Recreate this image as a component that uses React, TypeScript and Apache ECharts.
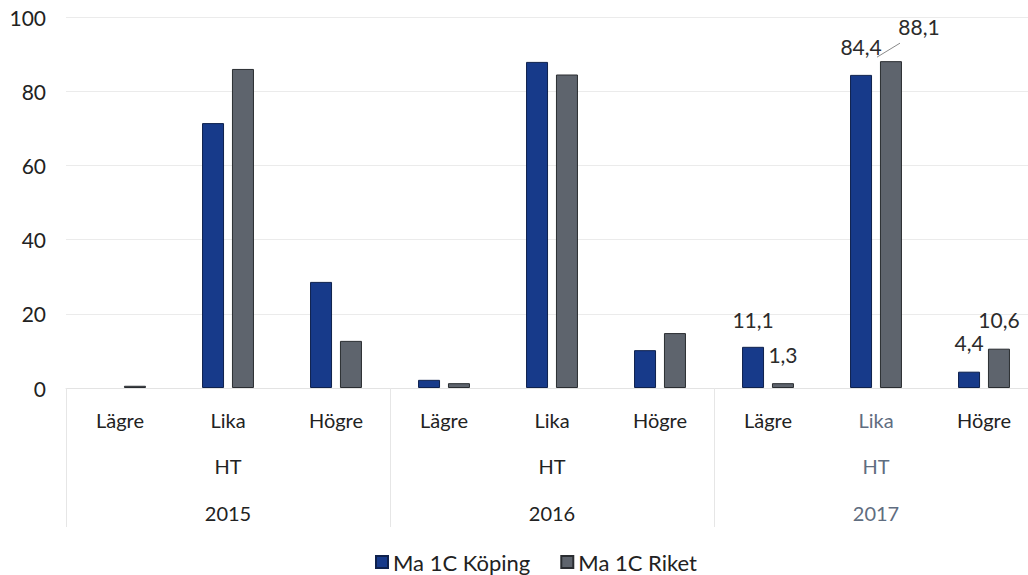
import React, { useEffect, useRef } from "react";
import * as echarts from "echarts";

const categories = ["Lägre", "Lika", "Högre", "Lägre", "Lika", "Högre", "Lägre", "Lika", "Högre"];
const terms = ["HT", "HT", "HT"];
const years = ["2015", "2016", "2017"];
const seriesNames = ["Ma 1C Köping", "Ma 1C Riket"];
const koping = [0, 71.4, 28.6, 2.2, 87.9, 10.2, 11.1, 84.4, 4.4];
const riket = [0.6, 86.0, 12.7, 1.3, 84.5, 14.8, 1.3, 88.1, 10.6];
const labelledFrom = 6; // only the 2017 bars carry value labels

const FONT = "Lato, 'Open Sans', sans-serif";
const fmt = (v: number) => v.toFixed(1).replace(".", ",");

export default function App() {
  const ref = useRef<HTMLDivElement>(null);
  useEffect(() => {
    if (!ref.current) return;
    const chart = echarts.init(ref.current, undefined, { renderer: "svg" });

    const labelOffsets: Record<string, number[]> = {
      "0-6": [0, -12],
      "0-7": [0, -13],
      "0-8": [0, -14],
      "1-6": [0, -13],
      "1-7": [28, -19],
      "1-8": [0, -14],
    };
    const mkData = (vals: number[], si: number) =>
      vals.map((v, i) =>
        i >= labelledFrom
          ? {
              value: v,
              label: {
                show: true,
                position: "top",
                offset: labelOffsets[`${si}-${i}`],
                formatter: () => fmt(v),
                fontFamily: FONT,
                fontSize: 21,
                color: "#2b2b2b",
              },
            }
          : v === 0
          ? { value: v, itemStyle: { borderWidth: 0 } }
          : v
      );

    const greyIdx = (i: number) => i === 7;

    chart.setOption({
      animation: false,
      textStyle: { fontFamily: FONT },
      grid: { left: 66, top: 17, width: 972, height: 371, containLabel: false },
      legend: {
        bottom: 1,
        left: 375,
        padding: 0,
        itemWidth: 12,
        itemHeight: 12,
        itemGap: 30,
        icon: "rect",
        textStyle: { fontFamily: FONT, fontSize: 22, lineHeight: 24, color: "#222" },
        data: seriesNames,
      },
      yAxis: {
        type: "value",
        min: 0,
        max: 100,
        interval: 20,
        axisLine: { show: false },
        axisTick: { show: false },
        splitLine: { lineStyle: { color: "#ebebeb", width: 1 } },
        axisLabel: { fontFamily: FONT, fontSize: 21, color: "#222", margin: 20 },
      },
      xAxis: [
        {
          type: "category",
          data: categories,
          position: "bottom",
          axisLine: { show: true, lineStyle: { color: "#e3e3e3" } },
          axisTick: { show: false },
          axisLabel: {
            interval: 0,
            margin: 22,
            fontFamily: FONT,
            fontSize: 20,
            color: (_v: string, i: number) => (greyIdx(i) ? "#5f6d80" : "#222"),
          },
        },
        {
          type: "category",
          data: terms,
          position: "bottom",
          axisLine: { show: false },
          axisTick: { show: false },
          axisLabel: {
            interval: 0,
            margin: 68,
            fontFamily: FONT,
            fontSize: 20,
            color: (_v: string, i: number) => (i === 2 ? "#5f6d80" : "#222"),
          },
        },
        {
          type: "category",
          data: years,
          position: "bottom",
          axisLine: { show: false },
          axisTick: { show: true, interval: 0, length: 139, lineStyle: { color: "#e6e6e6" } },
          axisLabel: {
            interval: 0,
            margin: 115,
            fontFamily: FONT,
            fontSize: 20,
            color: (_v: string, i: number) => (i === 2 ? "#5f6d80" : "#222"),
          },
        },
      ],
      series: [
        {
          name: seriesNames[0],
          type: "bar",
          xAxisIndex: 0,
          barWidth: 22,
          barGap: "36%",
          itemStyle: { color: "#173a8a", borderColor: "#0e214d", borderWidth: 1 },
          data: mkData(koping, 0),
        },
        {
          name: seriesNames[1],
          type: "bar",
          xAxisIndex: 0,
          barWidth: 22,
          barGap: "36%",
          itemStyle: { color: "#5e646d", borderColor: "#2a2d31", borderWidth: 1 },
          data: mkData(riket, 1),
        },
      ],
    });

    const p = chart.convertToPixel({ seriesIndex: 1 }, [7, riket[7]]) as number[];
    if (p && p.length === 2) {
      chart.setOption({
        graphic: [
          {
            type: "line",
            shape: { x1: p[0] + 1, y1: p[1] - 4, x2: p[0] + 24, y2: p[1] - 18 },
            style: { stroke: "#8a8a8a", lineWidth: 1 },
            silent: true,
          },
        ],
      });
    }

    return () => chart.dispose();
  }, []);

  return (
    <div
      style={{ position: "absolute", left: 0, top: 0, width: 1028, height: 575, overflow: "hidden", background: "#fff" }}
    >
      <div ref={ref} style={{ position: "absolute", left: 0, top: 0, width: 1048, height: 575 }} />
    </div>
  );
}
